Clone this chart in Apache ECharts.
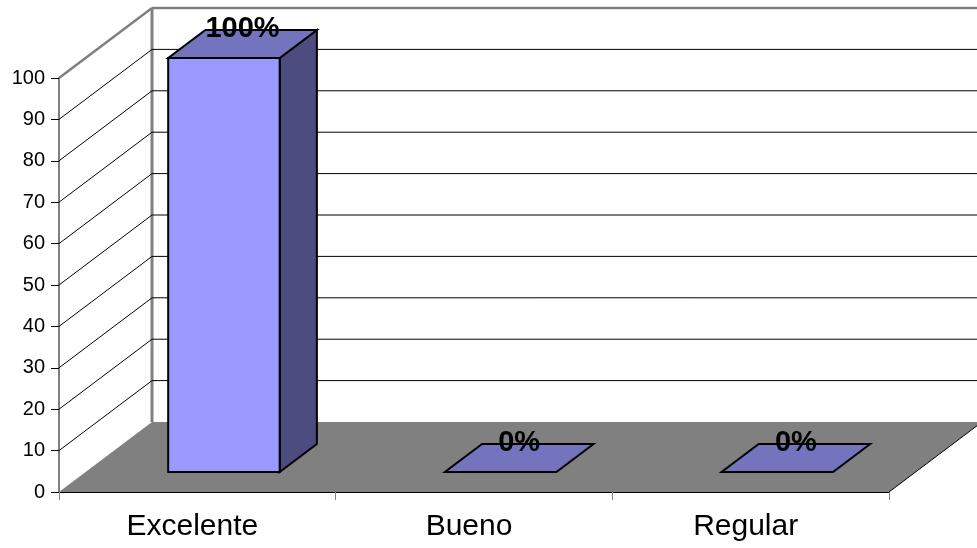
<!DOCTYPE html>
<html>
<head>
<meta charset="utf-8">
<script src="https://cdn.jsdelivr.net/npm/echarts@6/dist/echarts.min.js"></script>
<style>
    html, body { margin: 0; padding: 0; background: #fff; }
    #chart { width: 977px; height: 548px; }
</style>
</head>
<body>
<div id="chart"></div>
<script>
// datos del grafico
var categories = ['Excelente', 'Bueno', 'Regular'];
var values = [100, 0, 0];
var yTicks = [0, 10, 20, 30, 40, 50, 60, 70, 80, 90, 100];

// profundidad 3d (desplazamiento de la pared del fondo)
var DX = 93, DY = -70;
var F0 = 0.286, F1 = 0.686;   // posicion de la barra en la profundidad
var BAR_W = 0.403;            // ancho de barra / ancho de categoria
var FONT = "'Liberation Sans', Arial, sans-serif";

function bandInfo(api) {
    var bw = api.size([1, 0])[0];
    var p = api.coord([0, 0]);
    return {bw: bw, x0: p[0] - bw / 2, y0: p[1]};
}

// suelo y pared del fondo
function renderFloor(params, api) {
    var b = bandInfo(api);
    var top = api.coord([0, 100])[1];
    var xR = b.x0 + b.bw * categories.length;
    return {
        type: 'group',
        children: [
            {
                type: 'polygon',
                shape: {points: [[b.x0, b.y0], [b.x0 + DX, b.y0 + DY], [xR + DX, b.y0 + DY], [xR, b.y0]]},
                style: {fill: '#808080'}
            },
            {
                type: 'line',
                shape: {x1: xR, y1: b.y0, x2: xR + DX, y2: b.y0 + DY},
                style: {stroke: '#000', lineWidth: 1}
            },
            {
                type: 'line',
                shape: {x1: b.x0 + DX, y1: top + DY, x2: b.x0 + DX, y2: b.y0 + DY},
                style: {stroke: '#808080', lineWidth: 3}
            }
        ]
    };
}

// lineas de la cuadricula (pared izquierda y fondo)
function renderGrid(params, api) {
    var v = api.value(1);
    if (v === 0) return null;
    var b = bandInfo(api);
    var y = api.coord([0, v])[1];
    var xR = b.x0 + b.bw * categories.length;
    var isTop = v === yTicks[yTicks.length - 1];
    var st = isTop ? {stroke: '#808080', lineWidth: 2.5} : {stroke: '#000', lineWidth: 1};
    return {
        type: 'group',
        children: [
            {type: 'line', shape: {x1: b.x0, y1: y, x2: b.x0 + DX, y2: y + DY}, style: st},
            {type: 'line', shape: {x1: b.x0 + DX, y1: y + DY, x2: xR + DX, y2: y + DY}, style: st}
        ]
    };
}

function renderBar(params, api) {
    var i = api.value(0), v = api.value(1);
    var bw = api.size([1, 0])[0];
    var c = api.coord([i, v]);
    var base = api.coord([i, 0]);
    var w = bw * BAR_W;
    var xL = c[0] - w / 2 + F0 * DX, xR = xL + w;
    var yT = c[1] + F0 * DY, yB = base[1] + F0 * DY;
    var ddx = (F1 - F0) * DX, ddy = (F1 - F0) * DY;
    var line = {stroke: '#000', lineWidth: 2, lineJoin: 'miter'};
    var children = [];
    if (yB - yT > 0.5) {
        children.push({
            type: 'polygon',
            shape: {points: [[xR, yT], [xR + ddx, yT + ddy], [xR + ddx, yB + ddy], [xR, yB]]},
            style: Object.assign({fill: '#4C4C80'}, line)
        });
        children.push({
            type: 'rect',
            shape: {x: xL, y: yT, width: w, height: yB - yT},
            style: Object.assign({fill: '#9999FF'}, line)
        });
    }
    children.push({
        type: 'polygon',
        shape: {points: [[xL, yT], [xR, yT], [xR + ddx, yT + ddy], [xL + ddx, yT + ddy]]},
        style: Object.assign({fill: '#7474BE'}, line)
    });
    children.push({
        type: 'text',
        style: {
            x: xL + w / 2 + ddx / 2, y: yT + ddy - 1,
            text: v + '%', fill: '#000',
            font: 'bold 29px ' + FONT,
            align: 'center', verticalAlign: 'middle'
        }
    });
    return {type: 'group', children: children};
}

var barData = [];
for (var k = 0; k < values.length; k++) barData.push([k, values[k]]);
var gridData = [];
for (var t = 0; t < yTicks.length; t++) gridData.push([0, yTicks[t]]);

var chart = echarts.init(document.getElementById('chart'));
chart.setOption({
    animation: false,
    backgroundColor: '#fff',
    grid: {left: 59, top: 78, right: 88, bottom: 56},
    xAxis: {
        type: 'category',
        data: categories,
        axisLine: {lineStyle: {color: '#000', width: 1}},
        axisTick: {show: true, length: 8, lineStyle: {color: '#808080', width: 1}},
        axisLabel: {fontSize: 30, color: '#000', fontFamily: FONT, margin: 20, padding: [0, 10, 0, 0]},
        splitLine: {show: false}
    },
    yAxis: {
        type: 'value',
        min: 0,
        max: 100,
        interval: 10,
        axisLine: {show: true, lineStyle: {color: '#808080', width: 2}},
        axisTick: {show: true, length: 8, lineStyle: {color: '#000', width: 1}},
        axisLabel: {fontSize: 20, color: '#000', fontFamily: FONT, margin: 14},
        splitLine: {show: false}
    },
    series: [
        {type: 'custom', renderItem: renderFloor, data: [[0, 0]], clip: false, z: 1, silent: true},
        {type: 'custom', renderItem: renderGrid, data: gridData, clip: false, z: 2, silent: true},
        {type: 'custom', renderItem: renderBar, data: barData, clip: false, z: 3,
            encode: {x: 0, y: 1}}
    ]
});
</script>
</body>
</html>
